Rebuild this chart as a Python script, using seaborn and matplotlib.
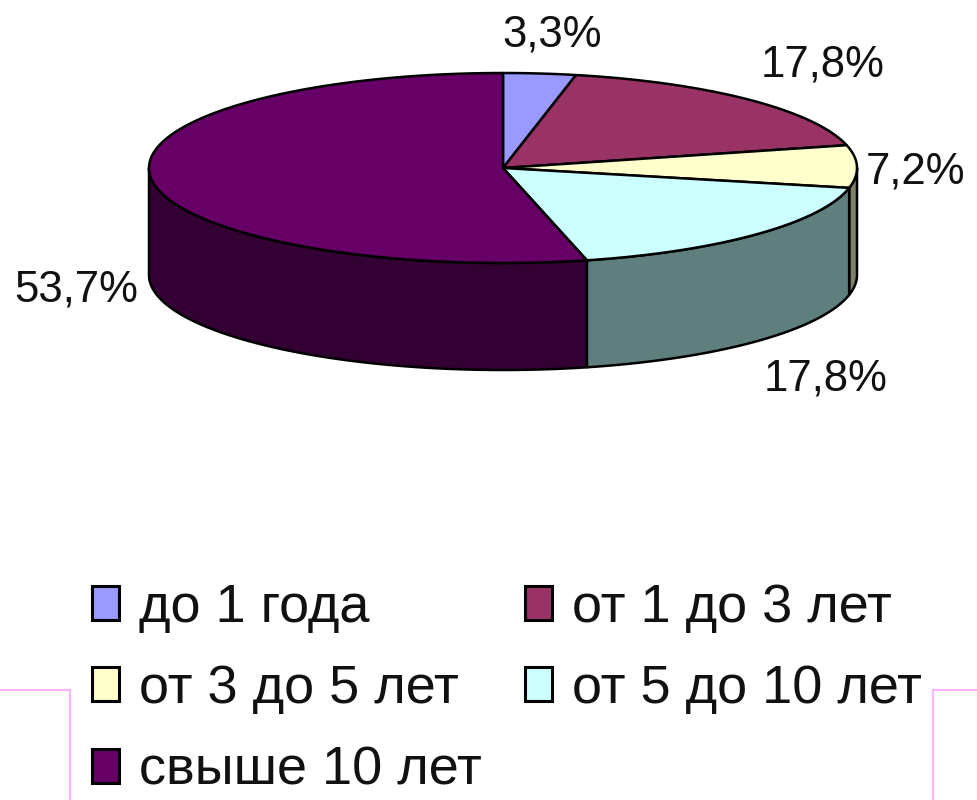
import numpy as np
import matplotlib
matplotlib.use("Agg")
import matplotlib.pyplot as plt
from matplotlib.patches import Polygon, Patch
from matplotlib.lines import Line2D
import seaborn as sns

# ---------------- data ----------------
categories = ["до 1 года", "от 1 до 3 лет", "от 3 до 5 лет", "от 5 до 10 лет", "свыше 10 лет"]
values = [3.3, 17.8, 7.2, 17.8, 53.7]
value_labels = ["3,3%", "17,8%", "7,2%", "17,8%", "53,7%"]

# ---------------- style ----------------
sns.set_theme(style="white")
plt.rcParams["font.family"] = ["Liberation Sans", "DejaVu Sans"]

top_colors = sns.color_palette(["#9999FF", "#993366", "#FFFFCC", "#CCFFFF", "#660066"])
side_colors = sns.color_palette(["#4C4C7F", "#4C1933", "#80806A", "#5F7F7F", "#330033"])

# layout (pixel space of the 977x800 canvas)
CX, CY, RX, RY, DEPTH = 503, 168, 354, 95, 107
label_pos = [(552, 35), (823, 65), (916, 172), (826, 379), (76, 290)]

fig = plt.figure(figsize=(9.77, 8), dpi=100)
ax = fig.add_axes([0, 0, 1, 1])
ax.set_xlim(0, 977)
ax.set_ylim(800, 0)
ax.axis("off")


def ellipse_pts(theta_deg, dy=0.0):
    t = np.radians(theta_deg)
    return np.column_stack([CX + RX * np.sin(t), CY - RY * np.cos(t) + dy])


fractions = np.array(values) / np.sum(values)
bounds = np.concatenate([[0.0], np.cumsum(fractions)]) * 360.0

# side walls (front half only: angles 90..270, measured clockwise from 12 o'clock)
for i in range(len(values)):
    a0, a1 = max(bounds[i], 90.0), min(bounds[i + 1], 270.0)
    if a1 > a0:
        th = np.linspace(a0, a1, 200)
        top = ellipse_pts(th)
        bot = ellipse_pts(th, DEPTH)
        poly = np.vstack([top, bot[::-1]])
        ax.add_patch(Polygon(poly, closed=True, facecolor=side_colors[i],
                             edgecolor="black", linewidth=1.8, joinstyle="round"))

# top faces
for i in range(len(values)):
    th = np.linspace(bounds[i], bounds[i + 1], 300)
    arc = ellipse_pts(th)
    poly = np.vstack([[CX, CY], arc])
    ax.add_patch(Polygon(poly, closed=True, facecolor=top_colors[i],
                         edgecolor="black", linewidth=1.8, joinstyle="round"))

# value labels
for (x, y), lab in zip(label_pos, value_labels):
    ax.text(x, y, lab, ha="center", va="center", fontsize=31.5, color="#111111")

# legend: row-wise order (matplotlib fills columns first)
handles = [Patch(facecolor=top_colors[i], edgecolor="black", linewidth=2.2) for i in range(len(values))]
order = [0, 2, 4, 1, 3]
leg = ax.legend([handles[i] for i in order], [categories[i] for i in order],
                ncol=2, loc="upper left", bbox_to_anchor=(92 / 977, 1 - 583 / 800),
                bbox_transform=fig.transFigure, frameon=False, fontsize=39,
                handlelength=0.5, handleheight=0.58, handletextpad=0.37,
                columnspacing=0.8, labelspacing=0.58, borderpad=0, borderaxespad=0)
for t in leg.get_texts():
    t.set_color("#111111")

# pink frame fragments at the bottom
pink = "#FFB3FF"
for xs, ys in [([0, 70], [690, 690]), ([70, 70], [690, 800]),
               ([933, 933], [690, 800]), ([933, 977], [690, 690])]:
    ax.add_line(Line2D(xs, ys, color=pink, linewidth=1.5))

fig.savefig("out.png", dpi=100, facecolor="white")
